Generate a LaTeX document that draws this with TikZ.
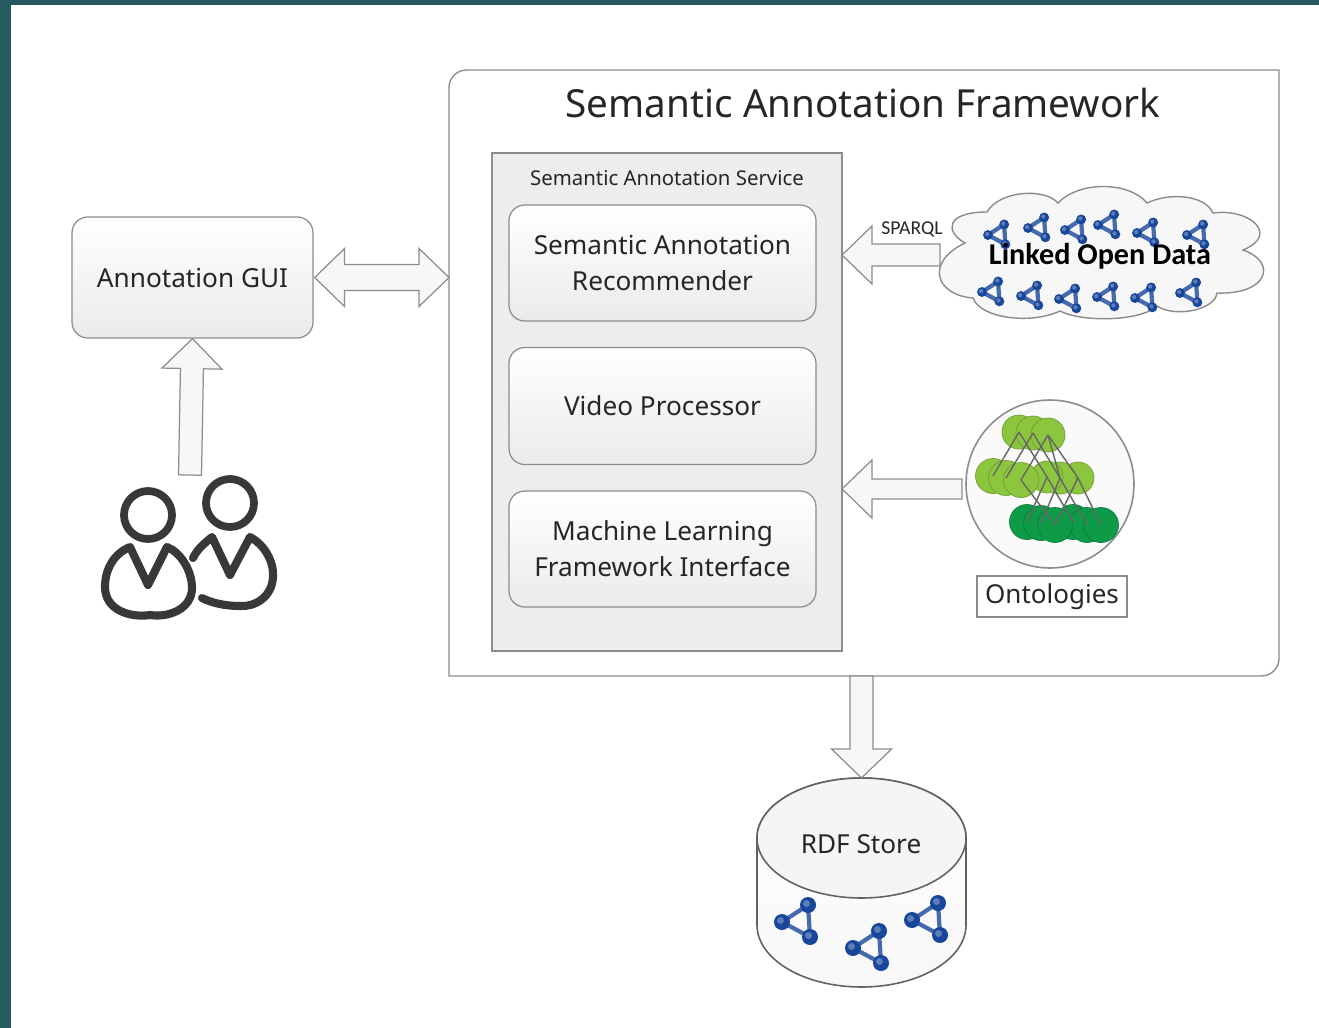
\documentclass[tikz,border=0pt]{standalone}
\usepackage{fontspec}
\setmainfont{Noto Sans}
\newfontfamily\carlito{Carlito}
\usetikzlibrary{calc,shapes.geometric}
\definecolor{band}{HTML}{255A5F}
\definecolor{edge}{HTML}{8C8C8C}
\definecolor{txt}{HTML}{262626}
\definecolor{lgreen}{HTML}{8CC63F}
\definecolor{dgreen}{HTML}{0E9B48}
\definecolor{netblue}{HTML}{17469A}
\newcommand{\pxu}{0.02cm}
\newcommand{\fs}[1]{\fontsize{#1pt}{20.6pt}\selectfont}
\tikzset{
  x=0.02cm,y=-0.02cm,
  softbox/.style={draw=edge,line width=0.7pt,rounded corners=9pt,top color=white,bottom color=black!8,text=txt,align=center,font=\fs{14.9}},
  plainnode/.style={inner sep=0pt,outer sep=0pt},
  blockline/.style={draw=edge,line width=0.7pt,fill=black!3},
  person/.style={draw=black!78,line width=4.6pt,line cap=round,line join=round},
  net/.pic={
    \draw[netblue!80!white,line width=2.4pt] (0,0)--(26,-17)--(28,15)--cycle;
    \foreach \a/\b in {0/0,26/-17,28/15}{
      \fill[netblue] (\a,\b) circle (8);
      \fill[netblue!70!white] (\a-1.5,\b-1.5) circle (3.5);
    }
  },
  onto/.style={draw=lgreen!80!black,line width=0.4pt,fill=lgreen},
  ontod/.style={draw=dgreen!80!black,line width=0.4pt,fill=dgreen},
  ontoline/.style={draw=black!60,line width=0.8pt},
}
% block arrows from tail #1 to tip #2; half tail width #3, half head width #4, head length #5 (px)
\newcommand{\blockone}[5]{%
  \draw[blockline] let \p1=(#1),\p2=(#2),\n1={atan2(\y2-\y1,\x2-\x1)},\n2={scalar(veclen(\x2-\x1,\y2-\y1))/0.56906} in
    [shift={(#2)},rotate=\n1,x=\pxu,y=\pxu]
    (-\n2,#3) -- (-#5,#3) -- (-#5,#4) -- (0,0) -- (-#5,-#4) -- (-#5,-#3)
    -- (-\n2,-#3) -- cycle;
}
\newcommand{\blocktwo}[5]{%
  \draw[blockline] let \p1=(#1),\p2=(#2),\n1={atan2(\y2-\y1,\x2-\x1)},\n2={scalar(veclen(\x2-\x1,\y2-\y1))/0.56906} in
    [shift={(#2)},rotate=\n1,x=\pxu,y=\pxu]
    (0,0) -- (-#5,#4) -- (-#5,#3) -- (-\n2+#5,#3) -- (-\n2+#5,#4) -- (-\n2,0)
    -- (-\n2+#5,-#4) -- (-\n2+#5,-#3) -- (-#5,-#3) -- (-#5,-#4) -- cycle;
}
\begin{document}
\begin{tikzpicture}
\useasboundingbox (0,0) rectangle (1319,1028);
\fill[white] (0,0) rectangle (1319,1028);
\fill[band] (0,0) rectangle (1319,5);
\fill[band] (0,0) rectangle (11,1028);

% framework
\node[plainnode,minimum width=830*\pxu,minimum height=606*\pxu] (frame) at (864,373) {};
\draw[edge,line width=0.8pt,fill=white] (frame.south west) [rounded corners=10pt] -- (frame.north west) [sharp corners] -- (frame.north east) -- (frame.east) [rounded corners=10pt] -- (frame.south east) [sharp corners] -- cycle;
\node[plainnode,text=txt,font=\fs{22}] (title) at (863,103) {Semantic Annotation Framework};

% service
\node[plainnode,draw=edge,line width=0.8pt,fill=black!7,minimum width=350*\pxu,minimum height=498*\pxu] (service) at (667,402) {};
\node[plainnode,text=txt,font=\fs{11.6}] (servicelabel) at (667,178) {Semantic Annotation Service};
\node[softbox,minimum width=307*\pxu,minimum height=116*\pxu] (rec) at (662.5,263) {Semantic Annotation\\Recommender};
\node[softbox,minimum width=307*\pxu,minimum height=117*\pxu] (video) at (662.5,406) {Video Processor};
\node[softbox,minimum width=307*\pxu,minimum height=116*\pxu] (ml) at (662.5,549) {Machine Learning\\Framework Interface};

% GUI
\node[softbox,minimum width=241*\pxu,minimum height=121*\pxu] (gui) at (192.5,277.5) {Annotation GUI};

% cloud
\coordinate (lodtail) at (940,255);
\draw[edge,line width=0.8pt,fill=black!3] (965,243)
  .. controls (945,232) and (945,212) .. (987,212)
  .. controls (1000,190) and (1045,188) .. (1058,203)
  .. controls (1080,180) and (1130,182) .. (1147,203)
  .. controls (1170,192) and (1205,195) .. (1213,213)
  .. controls (1250,208) and (1280,235) .. (1243,250)
  .. controls (1278,262) and (1268,295) .. (1217,293)
  .. controls (1215,310) and (1175,318) .. (1157,306)
  .. controls (1140,322) and (1080,322) .. (1060,311)
  .. controls (1030,325) and (980,318) .. (973,298)
  .. controls (935,295) and (925,262) .. (965,243) -- cycle;
\foreach \a/\b in {988/235,1028/228,1065/230,1098/225,1137/233,1187/235,982/292,1021/296,1059/299,1097/297,1135/298,1180/293}
  \pic[scale=0.62] at (\a,\b) {net};
\node[plainnode,font=\carlito\fs{17.2}\bfseries,text=black] (lod) at (1100,256) {Linked Open Data};
\node[plainnode,text=txt,font=\carlito\fs{11.2}] (sparql) at (912,229) {SPARQL};

% ontologies
\node[plainnode,circle,draw=edge,line width=0.9pt,fill=black!2,minimum size=168*\pxu] (ontocircle) at (1050,484) {};
\foreach \a/\b in {1019/432,1033/433,1048/435} \fill[onto] (\a,\b) circle (17);
\foreach \a/\b in {1078/478,1060/478,1047/477} \fill[onto] (\a,\b) circle (16);
\foreach \a/\b in {993/476,1006/478,1021/480} \fill[onto] (\a,\b) circle (17.5);
\foreach \a/\b in {1073/522,1087/525,1101/525,1027/522,1041/523,1055/525} \fill[ontod] (\a,\b) circle (17.5);
\foreach \a/\b/\c/\d in {1019/432/993/476,1033/433/1006/478,1048/435/1021/480,1019/432/1047/477,1033/433/1060/478,1048/435/1078/478,1048/435/1060/478,
  1047/477/1027/522,1060/478/1041/523,1078/478/1055/525,1021/480/1055/525,1047/477/1073/522,1060/478/1087/525,1078/478/1101/525}
  \draw[ontoline] (\a,\b) -- (\c,\d);
\node[plainnode,draw=edge,line width=0.8pt,fill=white,text=txt,font=\fs{14.8},minimum width=150*\pxu,minimum height=41*\pxu] (ontolabel) at (1052,596.5) {Ontologies};

% RDF store
\node[plainnode,minimum width=209*\pxu,minimum height=209*\pxu] (store) at (861.5,882.5) {};
\draw[edge!70!black,line width=0.9pt,top color=white,bottom color=black!3] (757,838) -- (757,925) arc[start angle=180,end angle=0,x radius=104.5,y radius=62] -- (966,838) arc[start angle=0,end angle=-180,x radius=104.5,y radius=60] -- cycle;
\draw[edge!70!black,line width=0.9pt,fill=black!4] (861.5,838) ellipse[x radius=104.5,y radius=60];
\node[plainnode,text=txt,font=\fs{14.9}] (storelabel) at (861,844) {RDF Store};
\foreach \a/\b in {782/922,853/948,912/920} \pic at (\a,\b) {net};

% users
\node[plainnode,circle,draw=black!78,line width=4.4pt,minimum size=48*\pxu] (headA) at (148,515) {};
\node[plainnode,circle,draw=black!78,line width=4.4pt,minimum size=48*\pxu] (headB) at (230,503) {};
\draw[person] (130,547) -- (148,585) -- (167,547) .. controls (180,552) and (192,570) .. (192,588)
  .. controls (192,608) and (170,618) .. (150,615) .. controls (130,618) and (105,610) .. (105,587)
  .. controls (105,568) and (115,553) .. (130,547) -- cycle;
\draw[person] (193,558) .. controls (198,548) and (205,543) .. (212,537) -- (230,575) -- (250,537)
  .. controls (265,545) and (274,562) .. (273,577) .. controls (272,597) and (255,607) .. (240,606)
  .. controls (225,606) and (212,603) .. (202,598);
\coordinate (usertop) at (190,475);

% arrows
\blockone{usertop}{gui.south}{11.5}{30}{30}
\coordinate (guiright) at ($(gui.east)+(1,0)$);
\blocktwo{guiright}{guiright -| frame.west}{13}{29}{30}
\coordinate (sparqlTip) at (rec.east -| service.east);
\blockone{lodtail}{sparqlTip |- lodtail}{11}{29}{30}
\coordinate (ontoTail) at ($(ontocircle.west)+(-4,5)$);
\blockone{ontoTail}{service.east |- ontoTail}{10}{29}{30}
\blockone{frame.south -| store.north}{store.north}{11.5}{30}{29}
\end{tikzpicture}
\end{document}
